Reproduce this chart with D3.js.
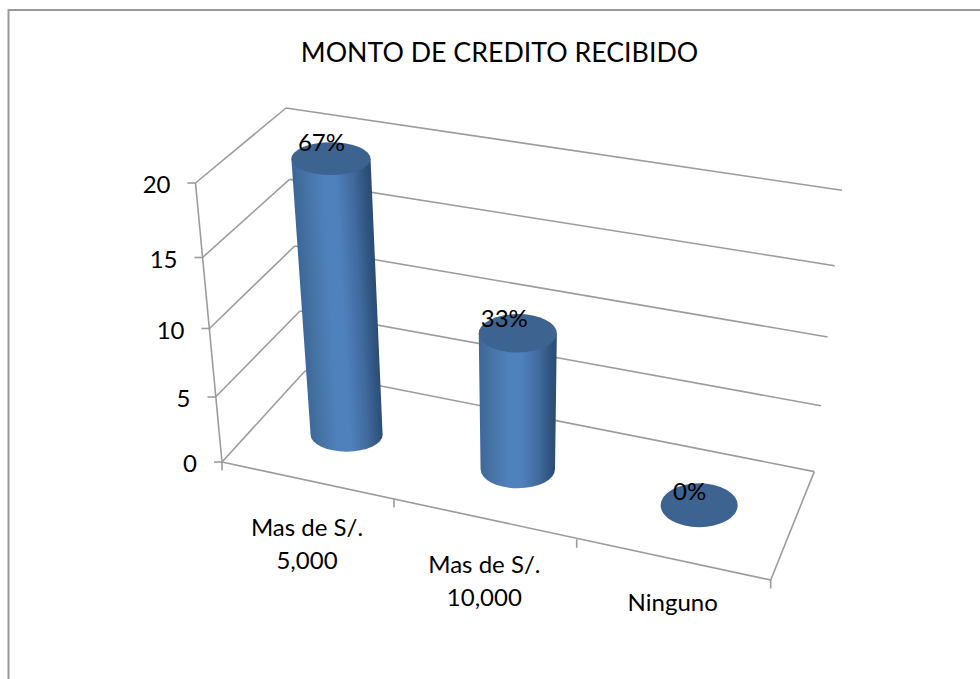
<!DOCTYPE html>
<html><head><meta charset="utf-8">
<script src="https://cdn.jsdelivr.net/npm/d3@7/dist/d3.min.js"></script>
<style>
html,body{margin:0;padding:0;background:#fff;overflow:hidden}
text{font-family:Lato,"Open Sans",sans-serif;fill:#000}
</style></head><body><svg id="c" width="980" height="679"></svg>
<script>
// ---- data ----
const title = "MONTO DE CREDITO RECIBIDO";
const categories = [["Mas de S/.","5,000"],["Mas de S/.","10,000"],["Ninguno"]];
const values = [20,10,0];
const percentLabels = ["67%","33%","0%"];
const valueTicks = [0,5,10,15,20];

// ---- layout: the perspective box, as anchors along its edges ----
const catEdges = [0,1,2,3];
const frontEdgeX = d3.scaleLinear().domain(catEdges).range([222,394,576.7,770.7]);
const frontEdgeY = d3.scaleLinear().domain(catEdges).range([462,499,539.3,580]);
const backEdgeX  = d3.scaleLinear().domain(catEdges).range([305,465.5,635,814.3]);
const backEdgeY  = d3.scaleLinear().domain(catEdges).range([371,408,430,471.6]);
const frontAxisX = d3.scaleLinear().domain(valueTicks).range([222,215.5,209.5,202.5,195.5]);
const frontAxisY = d3.scaleLinear().domain(valueTicks).range([462,397,328.5,257.5,183]);
const backLeftX  = d3.scaleLinear().domain(valueTicks).range([305,300,294.7,289.5,286]);
const backLeftY  = d3.scaleLinear().domain(valueTicks).range([371,311,246,179.4,108]);
const backRightX = d3.scaleLinear().domain(valueTicks).range([814.3,821,827.7,834.7,842]);
const backRightY = d3.scaleLinear().domain(valueTicks).range([471.6,405.7,337,265.7,190.3]);
const liftFraction = d3.scaleLinear().domain(valueTicks).range([0,.233,.478,.733,1]);
const liftFrontX = d3.scaleLinear().domain([0,3]).range([-26,22]);
const liftFrontY = d3.scaleLinear().domain([0,3]).range([-279,-310]);
const liftBackX  = d3.scaleLinear().domain([0,3]).range([-21,25]);
const liftBackY  = d3.scaleLinear().domain([0,3]).range([-266,-281]);

const floorPoint = u => [(frontEdgeX(u)+backEdgeX(u))/2,(frontEdgeY(u)+backEdgeY(u))/2];
const topPoint = (u,v) => {
  const p = floorPoint(u), f = liftFraction(v);
  return [p[0]+f*(liftFrontX(u)+liftBackX(u))/2, p[1]+f*(liftFrontY(u)+liftBackY(u))/2];
};
const radiusX = p => 38.48+0.0098*p[0]-0.0135*p[1];
const radiusY = p => 16.5+0.0153*(p[0]-338);

const svg = d3.select("#c");
const defs = svg.append("defs");
const lineColor = "#9c9c9c";
const line = d3.line();
const g = svg.append("g");
function stroke(a,b,w){ g.append("path").attr("d",line([a,b])).attr("fill","none").attr("stroke",lineColor).attr("stroke-width",w||1.6); }

// outer frame (only the top and left edges fall inside the picture)
g.append("path").attr("d",line([[8.5,679],[8.5,10],[980,10]])).attr("fill","none").attr("stroke","#999").attr("stroke-width",2);

g.append("text").attr("x",499.5).attr("y",62).attr("text-anchor","middle").attr("font-size",26.75).text(title);

// walls
valueTicks.forEach(v=>{
  stroke([frontAxisX(v),frontAxisY(v)],[backLeftX(v),backLeftY(v)]);
  stroke([backLeftX(v),backLeftY(v)],[backRightX(v),backRightY(v)]);
  stroke([frontAxisX(v)-8,frontAxisY(v)],[frontAxisX(v),frontAxisY(v)]);
  g.append("text").attr("x",frontAxisX(v)-25).attr("y",frontAxisY(v)+10).attr("text-anchor","end").attr("font-size",24).text(v);
});
stroke([frontAxisX(0),frontAxisY(0)],[frontAxisX(20),frontAxisY(20)]);
// floor
stroke([frontEdgeX(0),frontEdgeY(0)],[frontEdgeX(3),frontEdgeY(3)]);
stroke([frontEdgeX(3),frontEdgeY(3)],[backEdgeX(3),backEdgeY(3)]);
catEdges.forEach(c=>stroke([frontEdgeX(c),frontEdgeY(c)],[frontEdgeX(c),frontEdgeY(c)+8.5]));

// cylinders
values.forEach((v,i)=>{
  const u=i+.5, b=floorPoint(u), t=topPoint(u,v);
  const bx=radiusX(b), by=radiusY(b), tx=radiusX(t), ty=radiusY(t);
  if(v>0){
    const dx=b[0]-t[0], dy=b[1]-t[1], len=Math.hypot(dx,dy);
    const nx=dy/len, ny=-dx/len, w=bx+tx;
    const sx=(t[0]+b[0])/2-w/2*nx, sy=(t[1]+b[1])/2-w/2*ny;
    const grad=defs.append("linearGradient").attr("id","cyl"+i).attr("gradientUnits","userSpaceOnUse")
      .attr("x1",sx).attr("y1",sy).attr("x2",sx+w*nx).attr("y2",sy+w*ny);
    [[0,"#3c679c"],[.12,"#44719f"],[.38,"#4f81bd"],[.55,"#4f81bd"],[.78,"#41699c"],[.93,"#2f5480"],[1,"#2b4c75"]]
      .forEach(s=>grad.append("stop").attr("offset",s[0]).attr("stop-color",s[1]));
    g.append("path").attr("fill",`url(#cyl${i})`)
      .attr("d",`M${t[0]-tx},${t[1]}L${b[0]-bx},${b[1]}A${bx},${by} 0 0 0 ${b[0]+bx},${b[1]}L${t[0]+tx},${t[1]}Z`);
  }
  g.append("ellipse").attr("cx",t[0]).attr("cy",t[1]).attr("rx",tx).attr("ry",ty).attr("fill","#3d6391");
});

// labels
const labelOffsets=[[-9.5,-8],[-13.5,-6],[-9.5,-5]];
values.forEach((v,i)=>{
  const t=topPoint(i+.5,v);
  g.append("text").attr("x",t[0]+labelOffsets[i][0]).attr("y",t[1]+labelOffsets[i][1]).attr("text-anchor","middle").attr("font-size",24).text(percentLabels[i]);
});
const catDy=[55,54,51];
categories.forEach((lines,i)=>{
  const u=i+.5;
  lines.forEach((s,k)=>g.append("text").attr("x",frontEdgeX(u)-1).attr("y",frontEdgeY(u)+catDy[i]+33*k).attr("text-anchor","middle").attr("font-size",24).text(s));
});
</script></body></html>
